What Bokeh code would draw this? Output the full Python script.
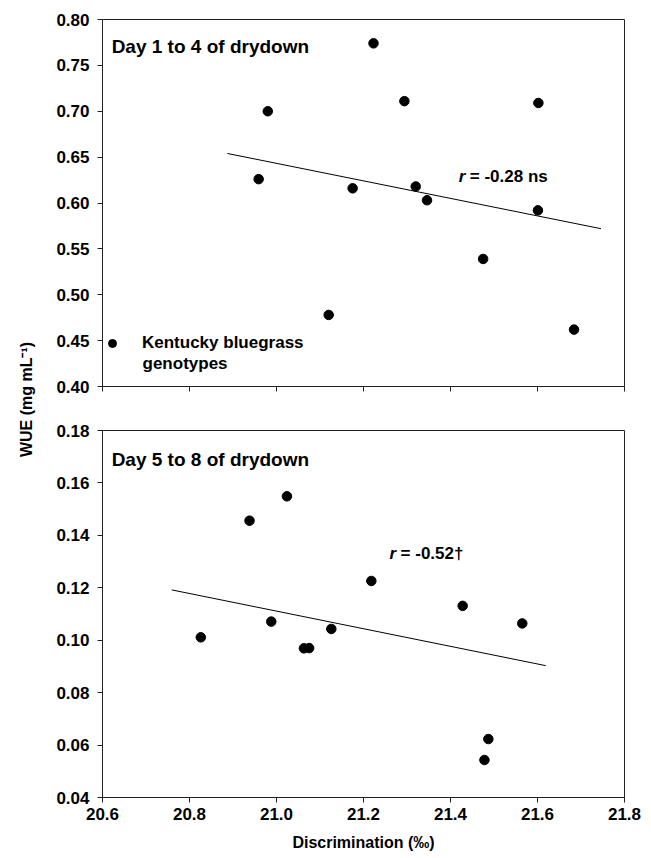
import math
from bokeh.plotting import figure
from bokeh.layouts import row, column
from bokeh.models import Range1d, FixedTicker, PrintfTickFormatter, Label, Legend, LegendItem
from bokeh.embed import file_html
from bokeh.resources import INLINE

# ---------------- data ----------------
x_ticks = [20.6, 20.8, 21.0, 21.2, 21.4, 21.6, 21.8]
top_y_ticks = [0.40, 0.45, 0.50, 0.55, 0.60, 0.65, 0.70, 0.75, 0.80]
bot_y_ticks = [0.04, 0.06, 0.08, 0.10, 0.12, 0.14, 0.16, 0.18]

# Day 1 to 4 of drydown
top_disc = [20.980, 20.959, 21.120, 21.223, 21.294, 21.175, 21.320, 21.346, 21.475, 21.602, 21.601, 21.684]
top_wue = [0.700, 0.626, 0.478, 0.774, 0.711, 0.616, 0.618, 0.603, 0.539, 0.709, 0.592, 0.462]
top_fit_x = [20.887, 21.746]
top_fit_y = [0.654, 0.572]

# Day 5 to 8 of drydown
bot_disc = [20.826, 20.938, 21.024, 20.988, 21.063, 21.075, 21.126, 21.218, 21.428, 21.565, 21.487, 21.478]
bot_wue = [0.1011, 0.1456, 0.1549, 0.1071, 0.0969, 0.0970, 0.1043, 0.1226, 0.1131, 0.1064, 0.0623, 0.0543]
bot_fit_x = [20.759, 21.619]
bot_fit_y = [0.1192, 0.0903]

FONT = "Liberation Sans"
AX = "#222222"


def style(p):
    p.xgrid.grid_line_color = None
    p.ygrid.grid_line_color = None
    p.outline_line_color = AX
    p.outline_line_width = 1
    p.background_fill_color = "white"
    p.border_fill_color = "white"
    for ax in (p.xaxis[0], p.yaxis[0]):
        ax.axis_line_color = AX
        ax.major_tick_line_color = AX
        ax.major_tick_in = 0
        ax.major_tick_out = 5
        ax.minor_tick_line_color = None
        ax.major_label_text_font = FONT
        ax.major_label_text_font_style = "bold"
        ax.major_label_text_font_size = "17px"
        ax.major_label_text_color = "black"
    p.yaxis[0].major_label_standoff = 8
    p.xaxis[0].ticker = FixedTicker(ticks=x_ticks)
    p.xaxis[0].formatter = PrintfTickFormatter(format="%.1f")
    p.yaxis[0].formatter = PrintfTickFormatter(format="%.2f")


def lbl(x, y, text, size, style_="bold", **kw):
    return Label(x=x, y=y, text=text, text_font=FONT, text_font_style=style_,
                 text_font_size=size, text_color="black", text_baseline="alphabetic", **kw)


W = 595
top = figure(width=W, height=406, x_range=Range1d(20.6, 21.8), y_range=Range1d(0.40, 0.80),
             output_backend="svg", toolbar_location=None,
             min_border_left=54, min_border_right=19, min_border_top=19, min_border_bottom=20)
style(top)
top.yaxis[0].ticker = FixedTicker(ticks=top_y_ticks)
top.xaxis[0].major_label_overrides = {t: "" for t in x_ticks}
top.xaxis[0].major_label_standoff = 0
pts_top = top.scatter(top_disc, top_wue, size=9.5, color="black")
top.line(top_fit_x, top_fit_y, line_color="black", line_width=1)

top.add_layout(lbl(20.621, 0.771, "Day 1 to 4 of drydown", "19px"))
top.add_layout(lbl(21.419, 0.6294, "r", "17px", "bold italic"))
top.add_layout(lbl(21.419, 0.6294, "= -0.28 ns", "17px", x_offset=11))

legend = Legend(items=[LegendItem(label="Kentucky bluegrass", renderers=[pts_top])],
                location=(0, 33), padding=0, margin=0, spacing=0,
                glyph_width=20, glyph_height=20, label_height=20, label_standoff=20,
                border_line_color=None, background_fill_alpha=0,
                label_text_font=FONT, label_text_font_style="bold", label_text_font_size="17px",
                label_text_color="black")
top.add_layout(legend)
top.add_layout(lbl(20.692, 0.4255, "genotypes", "17px"))

bot = figure(width=W, height=451, x_range=Range1d(20.6, 21.8), y_range=Range1d(0.04, 0.18),
             output_backend="svg", toolbar_location=None,
             min_border_left=54, min_border_right=19, min_border_top=24, min_border_bottom=60)
style(bot)
bot.yaxis[0].ticker = FixedTicker(ticks=bot_y_ticks)
bot.xaxis[0].major_label_standoff = 5
bot.xaxis[0].axis_label = "Discrimination (‰)"
bot.xaxis[0].axis_label_standoff = 11
bot.xaxis[0].axis_label_text_font = FONT
bot.xaxis[0].axis_label_text_font_style = "bold"
bot.xaxis[0].axis_label_text_font_size = "16px"
bot.xaxis[0].axis_label_text_color = "black"
bot.scatter(bot_disc, bot_wue, size=9.5, color="black")
bot.line(bot_fit_x, bot_fit_y, line_color="black", line_width=1)

bot.add_layout(lbl(20.621, 0.1689, "Day 5 to 8 of drydown", "19px"))
bot.add_layout(lbl(21.260, 0.1331, "r", "17px", "bold italic"))
bot.add_layout(lbl(21.260, 0.1331, "= -0.52†", "17px", x_offset=11))

# shared y-axis title
H = 857
lab = figure(width=48, height=H, x_range=Range1d(0, 48), y_range=Range1d(0, H),
             x_axis_type=None, y_axis_type=None, output_backend="svg", toolbar_location=None,
             min_border=0, outline_line_color=None)
lab.add_layout(Label(x=26, y=H - 399, text="WUE (mg mL⁻¹)", angle=math.pi / 2,
                     text_align="center", text_baseline="middle", text_font=FONT,
                     text_font_style="bold", text_font_size="16px", text_color="black"))

layout = row(lab, column(top, bot))
open("out.html", "w").write(file_html(layout, INLINE))
